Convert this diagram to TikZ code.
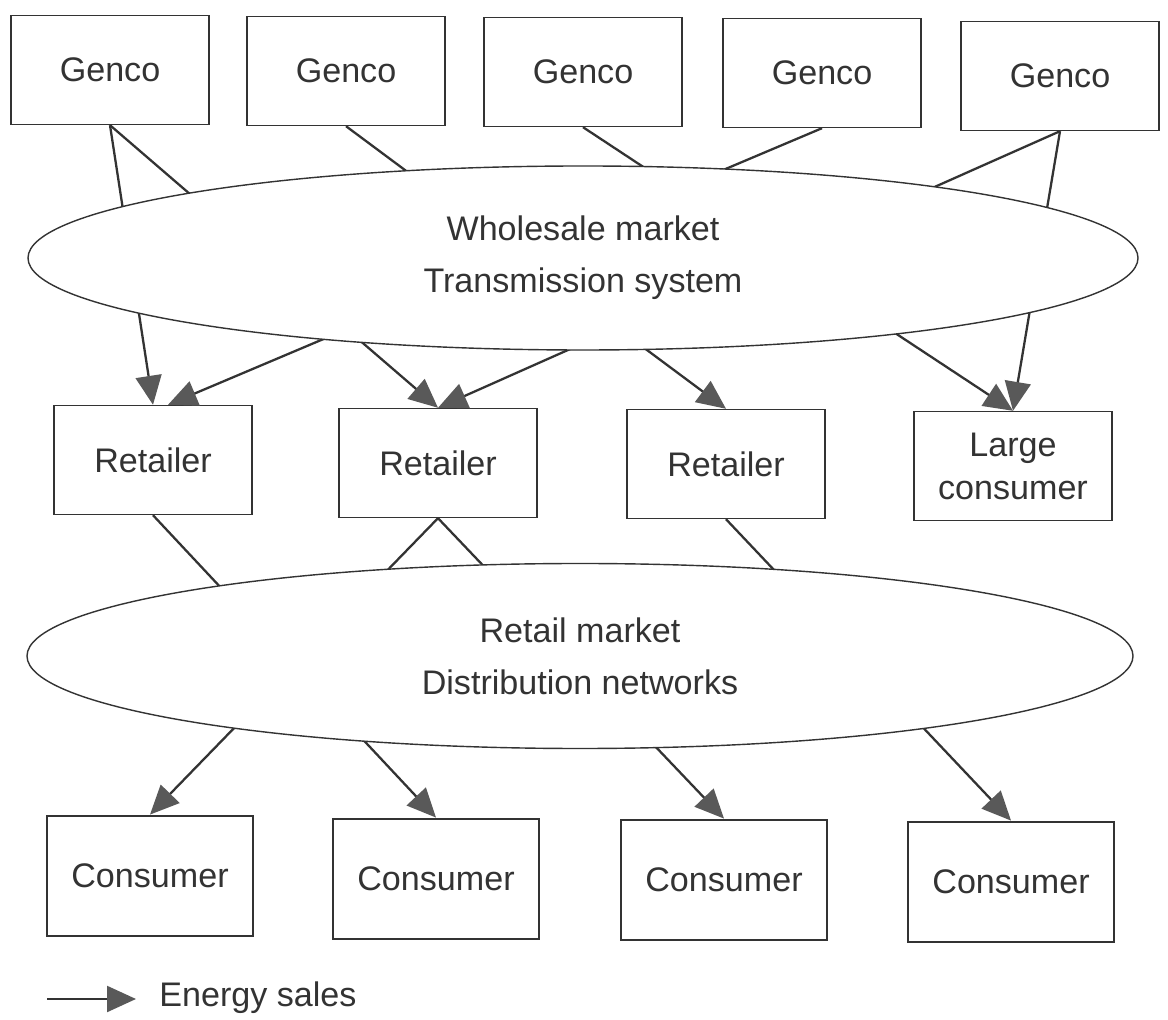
\documentclass[tikz,border=0pt]{standalone}
\usepackage{fontspec}
\setmainfont{Liberation Sans}
\usepackage{tikz}
\usetikzlibrary{shapes.geometric}
\usetikzlibrary{arrows.meta}

\begin{document}
\begin{tikzpicture}[
  font=\fontsize{19.4}{29.5}\selectfont,
  unit/.style={draw=black!80,line width=0.8pt,fill=white,text=black!80,inner sep=0pt,
    minimum width=3.96cm,minimum height=2.18cm,align=center},
  consumer/.style={unit,line width=1.6pt,minimum width=4.12cm,minimum height=2.4cm},
  market/.style={ellipse,draw=black!80,line width=0.8pt,fill=white,text=black!80,
    inner sep=0pt,align=center},
  sale/.style={draw=black!80,line width=1.3pt,
    -{Triangle[length=5.8mm,width=5.2mm,color=black!65]}}]
 \useasboundingbox (0,0) rectangle (23.36,20.38);

 % generators
 \node[unit] (g1) at (2.20,18.98) {Genco};
 \node[unit] (g2) at (6.92,18.96) {Genco};
 \node[unit] (g3) at (11.66,18.94) {Genco};
 \node[unit] (g4) at (16.44,18.92) {Genco};
 \node[unit] (g5) at (21.20,18.86) {Genco};

 % retailers
 \node[unit] (r1) at (3.06,11.18) {Retailer};
 \node[unit] (r2) at (8.76,11.12) {Retailer};
 \node[unit] (r3) at (14.52,11.10) {Retailer};
 \node[unit,font=\fontsize{19.4}{24.5}\selectfont] (lc) at (20.26,11.06) {Large\\consumer};

 % consumers
 \node[consumer] (c1) at (3.00,2.86) {Consumer};
 \node[consumer] (c2) at (8.72,2.80) {Consumer};
 \node[consumer] (c3) at (14.48,2.78) {Consumer};
 \node[consumer] (c4) at (20.22,2.74) {Consumer};

 % sales through the wholesale market
 \draw[sale] (g1.south) -- (r1.north);
 \draw[sale] (g1.south) -- (r2.north);
 \draw[sale] (g2.south) -- (r3.north);
 \draw[sale] (g3.south) -- (lc.north);
 \draw[sale] (g4.south) -- ([xshift=3mm]r1.north);
 \draw[sale] (g5.south) -- (r2.north);
 \draw[sale] (g5.south) -- (lc.north);

 % sales through the retail market
 \draw[sale] (r1.south) -- (c2.north);
 \draw[sale] (r2.south) -- (c1.north);
 \draw[sale] (r2.south) -- (c3.north);
 \draw[sale] (r3.south) -- (c4.north);

 % markets on top
 \node[market,minimum width=22.2cm,minimum height=3.68cm] (wm) at (11.66,15.22)
   {Wholesale market\\Transmission system};
 \node[market,minimum width=22.12cm,minimum height=3.7cm] (rm) at (11.60,7.26)
   {Retail market\\Distribution networks};

 % legend
 \coordinate (lega) at (0.94,0.40);
 \coordinate (legb) at (2.72,0.40);
 \draw[sale] (lega) -- (legb);
 \node[anchor=west,inner sep=0pt,text=black!80] (es) at (3.18,0.42) {Energy sales};
\end{tikzpicture}
\end{document}
